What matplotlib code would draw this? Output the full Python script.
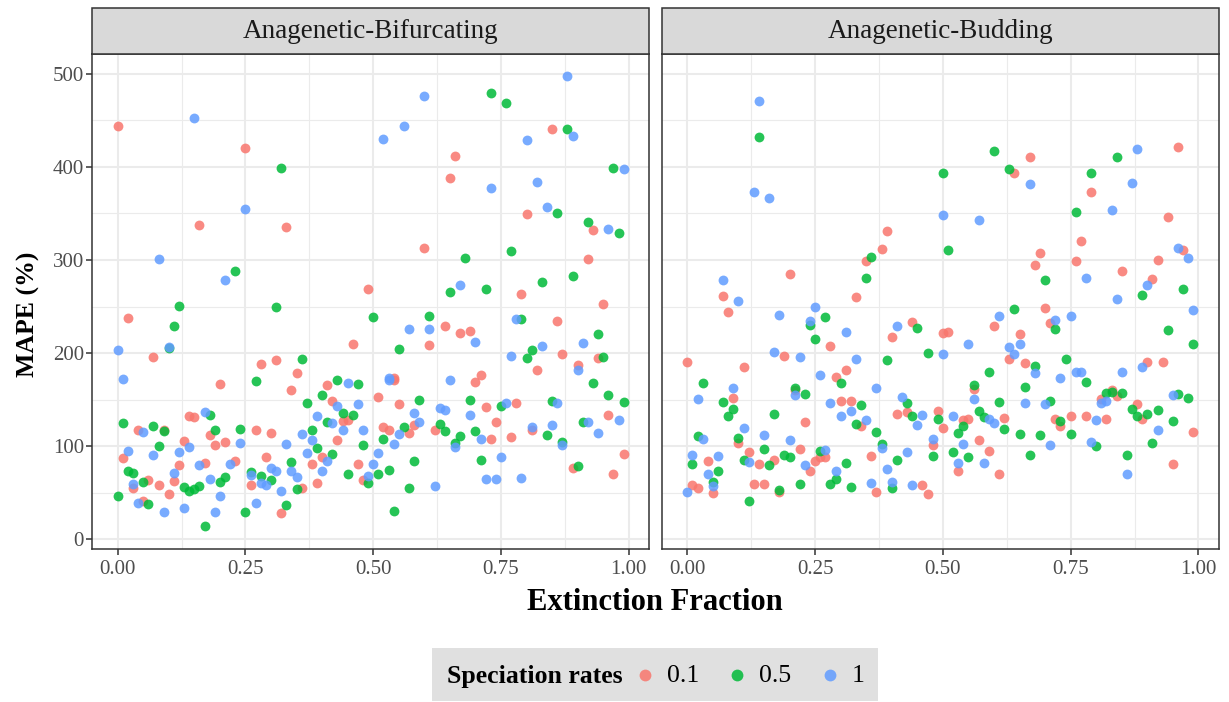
import matplotlib
matplotlib.use("Agg")
import matplotlib.pyplot as plt
from matplotlib.lines import Line2D
from matplotlib.patches import Rectangle
from matplotlib.ticker import MultipleLocator

plt.rcParams['font.family'] = ['Liberation Serif', 'DejaVu Serif']

panels = ["Anagenetic-Bifurcating", "Anagenetic-Budding"]
rates = ["0.1", "0.5", "1"]
colors = ["#F8766D", "#00BA38", "#619CFF"]

# panel 1: Anagenetic-Bifurcating
bif_x_01 = [0.00, 0.25, 0.16, 0.33, 0.02, 0.07, 0.49, 0.46, 0.28, 0.31, 0.35, 0.20, 0.34, 0.41, 0.42,
            0.44, 0.45, 0.43, 0.51, 0.04, 0.09, 0.14, 0.15, 0.13, 0.18, 0.19, 0.21, 0.27, 0.30, 0.01,
            0.12, 0.17, 0.23, 0.29, 0.03, 0.06, 0.08, 0.11, 0.10, 0.05, 0.26, 0.38, 0.39, 0.40, 0.36,
            0.32, 0.47, 0.48, 0.54, 0.70, 0.55, 0.52, 0.53, 0.57, 0.58, 0.62, 0.72, 0.74, 0.73, 0.78,
            0.77, 0.81, 0.89, 0.96, 0.99, 0.97, 0.85, 0.66, 0.65, 0.80, 0.93, 0.60, 0.92, 0.79, 0.95,
            0.64, 0.67, 0.69, 0.61, 0.86, 0.87, 0.94, 0.90, 0.82, 0.54, 0.71]
bif_y_01 = [444, 420, 338, 335, 238, 196, 269, 210, 188, 193, 179, 167, 160, 166, 149,
            127, 128, 107, 153, 118, 118, 133, 131, 106, 112, 101, 105, 118, 114, 87,
            80, 82, 84, 88, 55, 64, 58, 63, 49, 41, 58, 81, 61, 89, 55,
            28, 81, 64, 171, 169, 145, 121, 117, 114, 123, 118, 142, 126, 108, 146,
            110, 117, 77, 134, 92, 70, 440, 412, 388, 349, 332, 313, 301, 263, 253,
            229, 222, 224, 209, 234, 199, 195, 187, 182, 173, 176]

bif_x_05 = [0.32, 0.73, 0.76, 0.88, 0.97, 0.86, 0.92, 0.98, 0.68, 0.77, 0.89, 0.83, 0.65, 0.72, 0.23,
            0.12, 0.11, 0.31, 0.50, 0.61, 0.36, 0.55, 0.79, 0.94, 0.81, 0.80, 0.95, 0.27, 0.43, 0.47,
            0.37, 0.40, 0.44, 0.46, 0.41, 0.38, 0.39, 0.42, 0.48, 0.45, 0.49, 0.01, 0.07, 0.09, 0.08,
            0.18, 0.19, 0.24, 0.02, 0.03, 0.05, 0.06, 0.00, 0.13, 0.14, 0.15, 0.16, 0.20, 0.21, 0.17,
            0.26, 0.28, 0.30, 0.25, 0.34, 0.33, 0.35, 0.93, 0.96, 0.99, 0.59, 0.69, 0.75, 0.85, 0.56,
            0.63, 0.64, 0.67, 0.66, 0.70, 0.84, 0.87, 0.91, 0.52, 0.58, 0.71, 0.90, 0.51, 0.53, 0.57,
            0.54, 0.10]
bif_y_05 = [399, 479, 468, 441, 399, 350, 341, 329, 302, 310, 283, 276, 266, 269, 288,
            251, 229, 250, 239, 240, 194, 204, 237, 220, 203, 195, 196, 170, 171, 167,
            147, 155, 136, 134, 126, 118, 98, 92, 101, 70, 61, 125, 122, 116, 100,
            134, 117, 119, 74, 71, 62, 38, 47, 56, 52, 54, 57, 62, 67, 14,
            72, 68, 64, 29, 83, 37, 54, 168, 155, 148, 150, 150, 143, 149, 121,
            124, 116, 111, 104, 116, 112, 105, 126, 108, 84, 85, 79, 70, 75, 55,
            31, 206]

bif_x_1 = [0.88, 0.60, 0.56, 0.52, 0.89, 0.80, 0.73, 0.99, 0.82, 0.84, 0.96, 0.15, 0.25, 0.08, 0.21,
           0.00, 0.10, 0.01, 0.45, 0.17, 0.05, 0.02, 0.07, 0.12, 0.14, 0.16, 0.11, 0.03, 0.04, 0.09,
           0.13, 0.18, 0.20, 0.19, 0.22, 0.24, 0.26, 0.28, 0.29, 0.30, 0.31, 0.33, 0.32, 0.27, 0.34,
           0.35, 0.36, 0.38, 0.37, 0.39, 0.41, 0.40, 0.42, 0.43, 0.44, 0.47, 0.48, 0.50, 0.49, 0.51,
           0.53, 0.65, 0.58, 0.59, 0.63, 0.64, 0.69, 0.76, 0.86, 0.81, 0.85, 0.92, 0.94, 0.98, 0.55,
           0.54, 0.66, 0.71, 0.75, 0.87, 0.62, 0.72, 0.74, 0.79, 0.67, 0.57, 0.61, 0.70, 0.78, 0.91,
           0.83, 0.77, 0.90, 0.53]
bif_y_1 = [497, 476, 444, 430, 433, 429, 377, 398, 384, 357, 333, 452, 355, 301, 279,
           203, 207, 172, 168, 137, 115, 95, 91, 94, 99, 80, 71, 60, 39, 30,
           34, 65, 47, 30, 81, 104, 69, 61, 58, 77, 73, 103, 52, 39, 73,
           67, 113, 107, 93, 133, 84, 73, 125, 143, 117, 145, 117, 81, 68, 93,
           171, 171, 136, 126, 141, 139, 134, 146, 147, 121, 123, 126, 114, 128, 113,
           103, 99, 108, 88, 101, 57, 65, 65, 66, 273, 226, 226, 212, 237, 211,
           208, 197, 182, 173]

# panel 2: Anagenetic-Budding
bud_x_01 = [0.39, 0.67, 0.64, 0.96, 0.79, 0.94, 0.38, 0.35, 0.33, 0.20, 0.07, 0.08, 0.28, 0.40, 0.44,
            0.50, 0.19, 0.00, 0.11, 0.31, 0.29, 0.77, 0.69, 0.68, 0.76, 0.85, 0.92, 0.97, 0.91, 0.70,
            0.60, 0.71, 0.51, 0.65, 0.63, 0.66, 0.90, 0.93, 0.09, 0.21, 0.23, 0.10, 0.22, 0.12, 0.14,
            0.17, 0.04, 0.05, 0.01, 0.02, 0.13, 0.15, 0.18, 0.24, 0.25, 0.26, 0.27, 0.30, 0.32, 0.34,
            0.36, 0.37, 0.41, 0.43, 0.49, 0.50, 0.48, 0.46, 0.47, 0.56, 0.54, 0.55, 0.62, 0.57, 0.59,
            0.53, 0.61, 0.72, 0.73, 0.75, 0.78, 0.82, 0.81, 0.83, 0.84, 0.88, 0.89, 0.99, 0.95]
bud_y_01 = [331, 410, 393, 421, 373, 346, 312, 299, 260, 285, 261, 244, 208, 217, 233,
            222, 197, 191, 185, 182, 174, 320, 307, 295, 299, 288, 300, 311, 280, 248,
            229, 232, 223, 220, 194, 189, 190, 191, 152, 160, 126, 104, 97, 94, 81,
            85, 84, 50, 58, 55, 60, 60, 51, 74, 84, 88, 89, 149, 149, 122,
            90, 51, 135, 137, 138, 120, 101, 58, 49, 161, 128, 129, 130, 107, 95,
            74, 70, 129, 122, 132, 133, 129, 151, 160, 154, 145, 129, 115, 81]

bud_x_05 = [0.14, 0.50, 0.60, 0.63, 0.84, 0.79, 0.76, 0.36, 0.35, 0.27, 0.24, 0.25, 0.45, 0.51, 0.39,
            0.47, 0.30, 0.03, 0.21, 0.70, 0.89, 0.97, 0.64, 0.72, 0.68, 0.59, 0.56, 0.66, 0.74, 0.78,
            0.94, 0.99, 0.07, 0.09, 0.08, 0.23, 0.17, 0.02, 0.10, 0.15, 0.11, 0.16, 0.19, 0.20, 0.01,
            0.06, 0.05, 0.12, 0.18, 0.26, 0.22, 0.29, 0.28, 0.31, 0.32, 0.34, 0.33, 0.37, 0.38, 0.40,
            0.41, 0.43, 0.44, 0.49, 0.48, 0.61, 0.71, 0.57, 0.58, 0.54, 0.62, 0.53, 0.52, 0.55, 0.65,
            0.69, 0.75, 0.67, 0.73, 0.80, 0.82, 0.83, 0.85, 0.87, 0.88, 0.90, 0.92, 0.91, 0.95, 0.96,
            0.98, 0.86]
bud_y_05 = [432, 393, 417, 398, 410, 393, 351, 303, 281, 239, 230, 215, 227, 311, 193,
            200, 168, 168, 163, 279, 262, 269, 247, 226, 186, 180, 166, 164, 194, 169,
            225, 210, 148, 140, 133, 156, 135, 111, 109, 97, 85, 80, 91, 89, 81,
            73, 62, 41, 53, 95, 60, 65, 60, 82, 56, 144, 124, 115, 103, 55,
            85, 147, 133, 129, 90, 148, 149, 138, 131, 122, 119, 114, 94, 89, 113,
            112, 113, 91, 127, 100, 157, 158, 157, 140, 132, 135, 139, 104, 127, 156,
            152, 91]

bud_x_1 = [0.14, 0.13, 0.16, 0.50, 0.57, 0.67, 0.88, 0.87, 0.83, 0.07, 0.10, 0.18, 0.25, 0.24, 0.31,
           0.41, 0.17, 0.22, 0.50, 0.33, 0.26, 0.09, 0.37, 0.78, 0.96, 0.98, 0.90, 0.84, 0.99, 0.61,
           0.72, 0.75, 0.65, 0.63, 0.64, 0.68, 0.55, 0.73, 0.76, 0.77, 0.85, 0.89, 0.02, 0.21, 0.11,
           0.03, 0.15, 0.20, 0.12, 0.01, 0.06, 0.04, 0.05, 0.00, 0.23, 0.27, 0.29, 0.28, 0.30, 0.32,
           0.35, 0.38, 0.39, 0.36, 0.40, 0.43, 0.42, 0.45, 0.46, 0.48, 0.44, 0.56, 0.66, 0.70, 0.52,
           0.59, 0.60, 0.54, 0.53, 0.58, 0.71, 0.80, 0.79, 0.81, 0.82, 0.92, 0.95, 0.86]
bud_y_1 = [471, 373, 366, 348, 343, 382, 419, 383, 354, 279, 256, 241, 250, 234, 223,
           229, 201, 196, 199, 194, 176, 163, 163, 281, 313, 302, 273, 258, 246, 240,
           236, 240, 210, 207, 199, 179, 210, 173, 180, 180, 180, 185, 151, 155, 120,
           108, 112, 107, 83, 91, 90, 70, 57, 51, 80, 96, 74, 147, 132, 138,
           128, 98, 76, 61, 62, 94, 153, 123, 134, 108, 58, 151, 146, 145, 132,
           129, 125, 103, 82, 82, 101, 128, 105, 146, 149, 118, 155, 70]

data = [
    [(bif_x_01, bif_y_01), (bif_x_05, bif_y_05), (bif_x_1, bif_y_1)],
    [(bud_x_01, bud_y_01), (bud_x_05, bud_y_05), (bud_x_1, bud_y_1)],
]

W, H = 1229, 702
fig = plt.figure(figsize=(W / 100, H / 100), dpi=100)

grid_c = "#EBEBEB"
border_c = "#333333"
tick_c = "#4D4D4D"

ax_left = [92.4, 662.0]
ax_w = 556.6
ax_top, ax_bot = 54.0, 549.0
strip_top = 8.0

axes = []
for i, name in enumerate(panels):
    ax = fig.add_axes([ax_left[i] / W, 1 - ax_bot / H, ax_w / W, (ax_bot - ax_top) / H])
    axes.append(ax)
    for (xs, ys), c in zip(data[i], colors):
        ax.scatter(xs, ys, s=50, color=c, alpha=0.85, linewidths=0, zorder=3)
    ax.set_xlim(-0.0495, 1.0395)
    ax.set_ylim(-10.2, 521)
    ax.xaxis.set_minor_locator(MultipleLocator(0.125))
    ax.yaxis.set_major_locator(MultipleLocator(100))
    ax.yaxis.set_minor_locator(MultipleLocator(50))
    ax.set_xticks([0, 0.25, 0.5, 0.75, 1.0])
    ax.set_xticklabels(["0.00", "0.25", "0.50", "0.75", "1.00"])
    ax.grid(True, which="major", color=grid_c, linewidth=1.5, zorder=0)
    ax.grid(True, which="minor", color=grid_c, linewidth=0.8, zorder=0)
    ax.set_axisbelow(True)
    for sp in ax.spines.values():
        sp.set_color(border_c)
        sp.set_linewidth(1.1)
    ax.tick_params(which="major", length=4, width=1.1, color=border_c,
                   labelsize=15, labelcolor=tick_c, pad=4)
    ax.tick_params(axis="y", pad=2)
    ax.tick_params(which="minor", length=0)
    if i == 1:
        ax.tick_params(axis="y", which="both", length=0, labelleft=False)
    # strip
    fig.patches.append(Rectangle((ax_left[i] / W, 1 - ax_top / H), ax_w / W, (ax_top - strip_top) / H,
                                 transform=fig.transFigure, facecolor="#D9D9D9",
                                 edgecolor=border_c, linewidth=1.1, zorder=1))
    fig.text((ax_left[i] + ax_w / 2) / W, 1 - (ax_top + strip_top) / 2 / H, name,
             ha="center", va="center", fontsize=19.5, color="#1A1A1A")

fig.text(28 / W, 1 - 314 / H, "MAPE (%)", rotation=90, ha="center", va="center",
         fontsize=18.5, fontweight="bold")
fig.text((92.4 + 1218) / 2 / W, 1 - 603 / H, "Extinction Fraction",
         ha="center", va="center", fontsize=22, fontweight="bold")

# legend drawn by hand to match the ggplot horizontal layout
fig.patches.append(Rectangle((432 / W, 1 - 701 / H), 446 / W, 53 / H, transform=fig.transFigure,
                             facecolor="#E0E0E0", edgecolor="none", zorder=1))
fig.text(447 / W, 1 - 676 / H, "Speciation rates", ha="left", va="center",
         fontsize=18.5, fontweight="bold")
key_x = [645, 737, 830]
for kx, c, lab in zip(key_x, colors, rates):
    fig.add_artist(Line2D([kx / W], [1 - 675 / H], transform=fig.transFigure, marker="o",
                          linestyle="none", markersize=8.5, markerfacecolor=c,
                          markeredgecolor="none", alpha=0.85))
    fig.text((kx + 22) / W, 1 - 676 / H, lab, ha="left", va="center", fontsize=18.5)

fig.savefig("out.png", dpi=100)
